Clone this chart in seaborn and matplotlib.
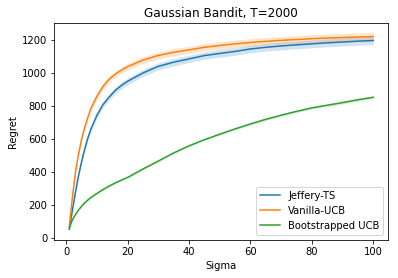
import numpy as np
import pandas as pd
import seaborn as sns
import matplotlib
matplotlib.use("Agg")
import matplotlib.pyplot as plt

# sigma values the runs were read at
sigma = [1, 2, 3, 4, 5, 6, 7, 8, 10, 12, 14, 16, 18, 20, 25, 30, 35, 40, 45,
         50, 55, 60, 65, 70, 75, 80, 85, 90, 95, 100]

# mean regret per method
jeffery_ts = [55, 170, 280, 380, 465, 540, 605, 660, 745, 810, 855, 895, 925,
              950, 1000, 1040, 1065, 1085, 1105, 1118, 1130, 1145, 1155, 1163,
              1170, 1176, 1182, 1187, 1192, 1196]
vanilla_ucb = [75, 250, 400, 510, 600, 670, 730, 785, 860, 920, 963, 993, 1018,
               1038, 1078, 1106, 1125, 1140, 1155, 1166, 1176, 1184, 1191, 1197,
               1202, 1207, 1211, 1214, 1217, 1220]
boot_ucb = [65, 112, 145, 172, 195, 215, 232, 247, 272, 296, 317, 336, 353, 369,
            420, 468, 517, 560, 597, 630, 662, 692, 720, 745, 768, 789, 805, 821,
            838, 853]

# half width of the shaded bands
jeffery_ci = [4, 8, 10, 12, 13, 14, 15, 16, 17, 18, 19, 19, 20, 20, 21, 21, 22,
              22, 22, 23, 23, 23, 23, 24, 24, 24, 24, 24, 25, 25]
vanilla_ci = [4, 8, 10, 12, 13, 14, 15, 16, 17, 18, 19, 19, 20, 20, 21, 21, 22,
              22, 22, 23, 23, 23, 23, 24, 24, 24, 24, 24, 25, 25]
boot_ci = [2, 3, 3, 3, 4, 4, 4, 4, 4, 5, 5, 5, 5, 5, 5, 6, 6, 6, 6, 6, 6, 7, 7,
           7, 7, 7, 7, 8, 8, 8]

labels = ["Jeffery-TS", "Vanilla-UCB", "Bootstrapped UCB"]
means = [jeffery_ts, vanilla_ucb, boot_ucb]
cis = [jeffery_ci, vanilla_ci, boot_ci]
colors = ["#1f77b4", "#ff7f0e", "#2ca02c"]

fig, ax = plt.subplots(figsize=(398 / 72, 278 / 72), dpi=72)
fig.subplots_adjust(left=0.136, right=0.976, top=0.919, bottom=0.137)

for lab, m, c, col in zip(labels, means, cis, colors):
    df = pd.DataFrame({"Sigma": sigma, "Regret": m})
    sns.lineplot(data=df, x="Sigma", y="Regret", ax=ax, color=col, label=lab)
    lo = np.array(m) - np.array(c)
    hi = np.array(m) + np.array(c)
    ax.fill_between(sigma, lo, hi, color=col, alpha=0.2, linewidth=0)

ax.set_title("Gaussian Bandit, T=2000")
ax.set_xlabel("Sigma")
ax.set_ylabel("Regret")
ax.legend(loc="lower right")

fig.savefig("out.png", dpi=72)
